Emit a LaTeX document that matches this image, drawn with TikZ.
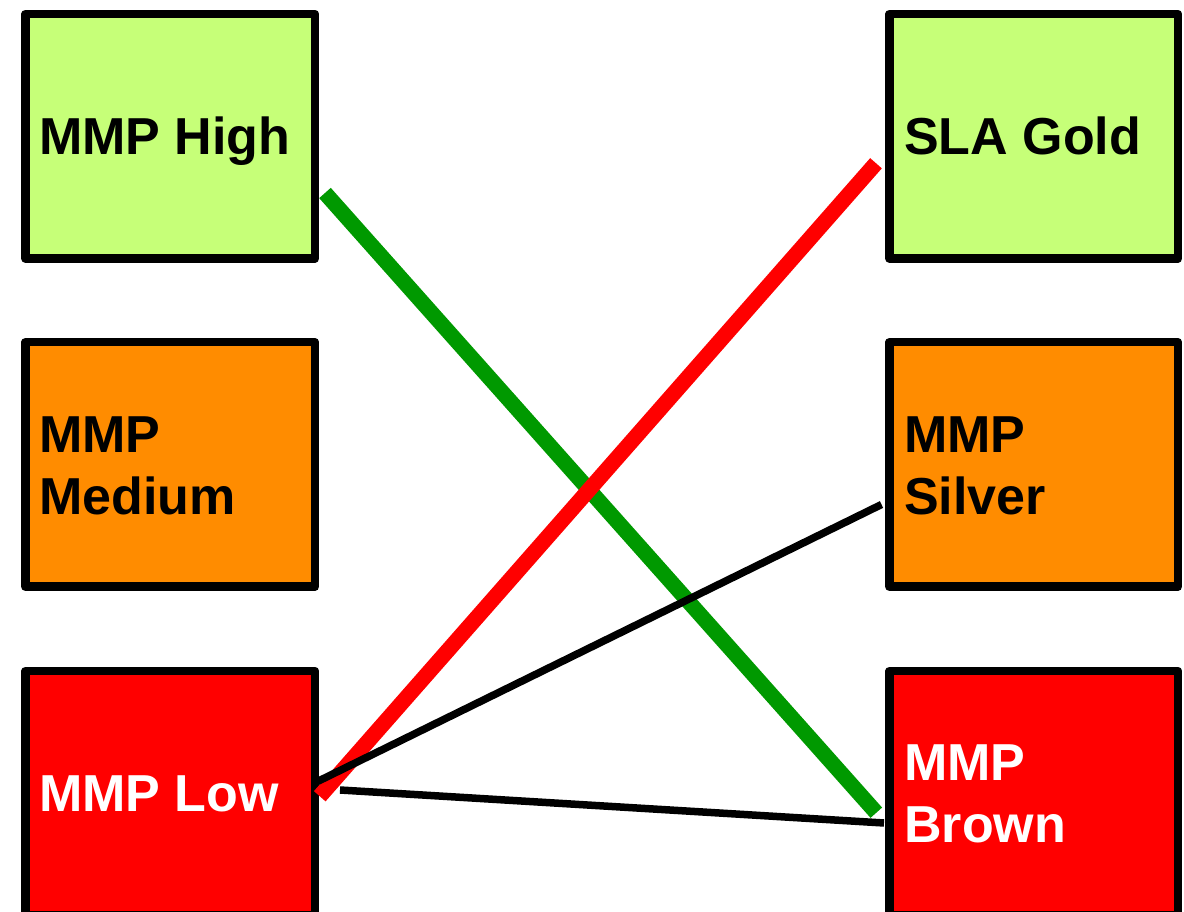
\documentclass[tikz,border=0pt]{standalone}
\usepackage{fontspec}
\setmainfont{Liberation Sans}
\usetikzlibrary{calc}
\definecolor{boxgreen}{HTML}{C6FF78}
\definecolor{boxorange}{HTML}{FF8C00}
\definecolor{boxred}{HTML}{FF0000}
\definecolor{linegreen}{HTML}{009900}
\definecolor{linered}{HTML}{FF0000}
\newcommand\onelab[2]{\makebox[0pt][l]{\hspace*{#1}\raisebox{-18.6pt}[0pt][0pt]{#2}}}
\newcommand\twolab[3]{\makebox[0pt][l]{\hspace*{#1}\raisebox{12.4pt}[0pt][0pt]{\parbox[t]{260pt}{#2\\#3}}}}
\begin{document}
\begin{tikzpicture}[x=1pt,y=1pt,
  boxnode/.style={rectangle, draw=black, line width=8.5pt, line join=round,
    inner sep=0pt, minimum height=244.5pt,
    font=\bfseries\fontsize{52}{62}\selectfont},
  lbox/.style={boxnode, minimum width=289.5pt},
  rbox/.style={boxnode, minimum width=288.5pt},
  thickline/.style={line width=15.5pt, line cap=butt},
  thinline/.style={line width=7.5pt, draw=black, line cap=butt}]
\useasboundingbox (0,0) rectangle (1184,911);
\node[lbox, fill=boxgreen] (high) at (170.25,774.75) {\onelab{-131pt}{MMP High}};
\node[lbox, fill=boxorange] (medium) at (170.25,446.5) {\twolab{-131pt}{MMP}{Medium}};
\node[lbox, fill=boxred, text=white] (low) at (170.25,117.75) {\onelab{-131pt}{MMP Low}};
\node[rbox, fill=boxgreen] (gold) at (1033.75,774.75) {\onelab{-129.5pt}{SLA Gold}};
\node[rbox, fill=boxorange] (silver) at (1033.75,446.5) {\twolab{-129.5pt}{MMP}{Silver}};
\node[rbox, fill=boxred, text=white] (brown) at (1033.75,117.75) {\twolab{-129.5pt}{MMP}{Brown}};
\draw[thickline, linegreen] ([shift={(5.75,-56.75)}]high.east) -- ([shift={(-8.95,-19.45)}]brown.west);
\draw[thickline, linered] ([shift={(0.5,-3)}]low.east) -- ([shift={(-9.25,-27)}]gold.west);
\draw[thinline] ([shift={(-2.75,11.25)}]low.east) -- ([shift={(-3.75,-40)}]silver.west);
\draw[thinline] ([shift={(20.75,3.25)}]low.east) -- ([shift={(-1.25,-29.75)}]brown.west);
\end{tikzpicture}
\end{document}
